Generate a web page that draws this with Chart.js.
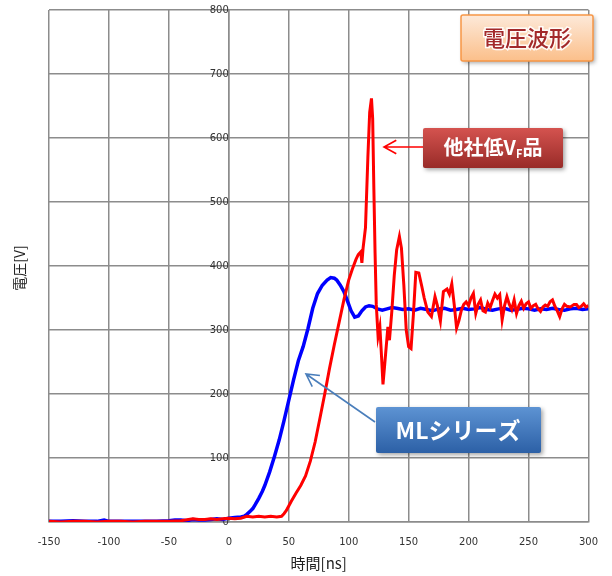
<!DOCTYPE html>
<html lang="ja">
<head>
<meta charset="UTF-8">
<title>電圧波形</title>
<script src="https://cdn.jsdelivr.net/npm/chart.js@4.4.1/dist/chart.umd.min.js"></script>
<style>
  html, body { margin: 0; padding: 0; background: #fff; }
  #wrap { width: 612px; height: 576px; }
</style>
</head>
<body>
<div id="wrap"><canvas id="wave"></canvas></div>
<script>
// ML series (blue)
var mlTime = [-150,-140,-130,-120,-110,-104,-100,-90,-80,-70,-60,-50,-45,-40,-35,-30,-25,-20,-15,-10,-5,0,5,10,13,15,18,20,22,25,28,30,34,38,42,46,50,54,58,62,66,70,74,78,82,85,88,90,93,96,99,102,105,108,111,114,117,120,124,128,132,136,140,145,150,155,160,165,170,175,180,185,190,195,200,205,210,215,220,225,230,235,240,245,250,255,260,265,270,275,280,285,290,295,300];
var mlVolt = [1,1,2,1,1,3,1,1,1,1,1,2,3,3,2,4,3,3,4,5,4,6,7,8,9,12,17,21,27,37,48,57,78,102,128,158,190,222,252,274,302,334,357,370,378,382,381,378,370,360,345,330,320,322,330,336,338,337,333,331,333,335,334,332,333,331,334,332,330,333,334,331,332,334,332,333,335,332,331,333,334,331,332,334,333,331,333,332,334,332,331,333,334,332,333];

// other company low VF product (red)
var otherTime = [-150,-140,-130,-120,-110,-100,-90,-80,-70,-60,-50,-40,-30,-25,-20,-15,-10,-5,0,5,10,15,20,25,30,35,40,44,46,48,50,52,56,60,64,68,72,76,80,84,88,92,96,100,103,106,108,110,111,112,114,116,117.5,119,120,121,122,123,124.5,126,127.5,128.6,130,132.7,134,136,138,140,142.3,144,146,148,150,152,154,156,158.5,161,163,166,169,172,174,176.5,179,182,184,186,188,190,192,194,196,198,200,202,204,206,208,210,212,214,216,218,220,222,224,226,228,230,232,234,236,238,240,242,244,246,248,250,252,254,256,258,260,262,264,266,268,270,272,274,276,278,280,282,285,288,290,292,294,296,298,300];
var otherVolt = [1,0,1,1,0,1,1,0,1,1,1,2,5,4,4,5,4,5,6,5,6,9,8,9,8,9,8,9,13,18,25,32,45,57,72,95,125,162,200,240,277,312,347,378,395,410,418,422,405,428,460,570,640,662,630,520,420,340,290,305,255,215,245,305,284,330,385,425,446,428,370,300,274,271,325,390,389,368,350,328,321,352,338,314,360,364,356,372,340,303,315,331,340,344,338,350,357,326,340,347,330,328,342,335,346,356,350,355,316,338,352,340,332,347,326,338,345,334,341,344,334,338,340,333,329,336,339,337,344,347,337,330,321,333,340,337,336,340,340,335,337,341,336,338];

var xTicks = [-150,-100,-50,0,50,100,150,200,250,300];
var yTicks = [0,100,200,300,400,500,600,700,800];

function pairs(xs, ys) {
  return xs.map(function (x, i) { return { x: x, y: ys[i] }; });
}

function roundRect(ctx, x, y, w, h, r) {
  ctx.beginPath();
  ctx.moveTo(x + r, y);
  ctx.lineTo(x + w - r, y);
  ctx.quadraticCurveTo(x + w, y, x + w, y + r);
  ctx.lineTo(x + w, y + h - r);
  ctx.quadraticCurveTo(x + w, y + h, x + w - r, y + h);
  ctx.lineTo(x + r, y + h);
  ctx.quadraticCurveTo(x, y + h, x, y + h - r);
  ctx.lineTo(x, y + r);
  ctx.quadraticCurveTo(x, y, x + r, y);
  ctx.closePath();
}

function box(ctx, x, y, w, h, top, bottom, border) {
  ctx.save();
  ctx.shadowColor = 'rgba(0,0,0,0.35)';
  ctx.shadowBlur = 4;
  ctx.shadowOffsetX = 2;
  ctx.shadowOffsetY = 2;
  var g = ctx.createLinearGradient(0, y, 0, y + h);
  g.addColorStop(0, top);
  g.addColorStop(1, bottom);
  roundRect(ctx, x, y, w, h, 2);
  ctx.fillStyle = g;
  ctx.fill();
  ctx.restore();
  if (border) {
    ctx.save();
    roundRect(ctx, x, y, w, h, 2);
    ctx.strokeStyle = border;
    ctx.lineWidth = 1.5;
    ctx.stroke();
    ctx.restore();
  }
}

function arrow(ctx, x1, y1, x2, y2, color) {
  var a = Math.atan2(y1 - y2, x1 - x2);
  var len = 14, spread = 0.5;
  ctx.save();
  ctx.strokeStyle = color;
  ctx.lineWidth = 1.6;
  ctx.beginPath();
  ctx.moveTo(x1, y1);
  ctx.lineTo(x2, y2);
  ctx.moveTo(x2 + len * Math.cos(a + spread), y2 + len * Math.sin(a + spread));
  ctx.lineTo(x2, y2);
  ctx.lineTo(x2 + len * Math.cos(a - spread), y2 + len * Math.sin(a - spread));
  ctx.stroke();
  ctx.restore();
}

var notes = {
  id: 'notes',
  afterDraw: function (chart) {
    var ctx = chart.ctx;
    var jp = '"Noto Sans CJK JP", sans-serif';

    // y axis title
    ctx.save();
    ctx.translate(20, 268);
    ctx.rotate(-Math.PI / 2);
    ctx.font = '14px ' + jp;
    ctx.fillStyle = '#222';
    ctx.textAlign = 'center';
    ctx.textBaseline = 'middle';
    ctx.fillText('電圧[V]', 0, 0);
    ctx.restore();

    // title box
    box(ctx, 461, 15, 132, 46, '#fde9d9', '#fbbf8a', '#f79646');
    ctx.save();
    ctx.font = '500 22px ' + jp;
    ctx.textAlign = 'center';
    ctx.textBaseline = 'middle';
    ctx.lineWidth = 3;
    ctx.strokeStyle = 'rgba(255,255,255,0.9)';
    ctx.strokeText('電圧波形', 527, 38);
    ctx.fillStyle = '#a3292a';
    ctx.fillText('電圧波形', 527, 38);
    ctx.restore();

    // red label
    arrow(ctx, 423, 147, 384, 147, '#ff0000');
    box(ctx, 423, 128, 140, 40, '#d4534f', '#982b28', null);
    ctx.save();
    ctx.fillStyle = '#fff';
    ctx.textBaseline = 'middle';
    var t1 = '他社低V', t2 = '品';
    ctx.font = 'bold 20px ' + jp;
    var w1 = ctx.measureText(t1).width;
    ctx.font = 'bold 11px ' + jp;
    var ws = ctx.measureText('F').width;
    ctx.font = 'bold 20px ' + jp;
    var w2 = ctx.measureText(t2).width;
    var sx = 493 - (w1 + ws + w2) / 2;
    ctx.fillText(t1, sx, 147);
    ctx.font = 'bold 11px ' + jp;
    ctx.fillText('F', sx + w1, 154);
    ctx.font = 'bold 20px ' + jp;
    ctx.fillText(t2, sx + w1 + ws, 147);
    ctx.restore();

    // blue label
    arrow(ctx, 375, 422, 306, 374, '#4a7ebb');
    box(ctx, 376, 407, 165, 46, '#5d93d3', '#2c60a6', null);
    ctx.save();
    ctx.fillStyle = '#fff';
    ctx.font = 'bold 23px ' + jp;
    ctx.textAlign = 'center';
    ctx.textBaseline = 'middle';
    ctx.fillText('MLシリーズ', 458, 430);
    ctx.restore();
  }
};

new Chart(document.getElementById('wave'), {
  type: 'line',
  data: {
    datasets: [
      {
        label: '他社低VF品',
        data: pairs(otherTime, otherVolt),
        borderColor: '#ff0000',
        borderWidth: 3,
        pointRadius: 0,
        tension: 0
      },
      {
        label: 'MLシリーズ',
        data: pairs(mlTime, mlVolt),
        borderColor: '#0000ff',
        borderWidth: 3.5,
        pointRadius: 0,
        tension: 0
      }
    ]
  },
  options: {
    responsive: true,
    maintainAspectRatio: false,
    animation: false,
    layout: { padding: { left: 49, right: 15, top: 10, bottom: 0 } },
    plugins: { legend: { display: false }, tooltip: { enabled: false } },
    scales: {
      x: {
        type: 'linear',
        min: -150,
        max: 300,
        afterBuildTicks: function (s) { s.ticks = xTicks.map(function (v) { return { value: v }; }); },
        afterFit: function (s) { s.height = 54; },
        grid: { color: '#8c8c8c', lineWidth: 1.5, drawTicks: false },
        border: { color: '#8c8c8c', width: 1.5 },
        ticks: { padding: 14, color: '#333', font: { family: 'DejaVu Sans', size: 10 } },
        title: {
          display: true,
          text: '時間[ns]',
          color: '#222',
          font: { family: '"Noto Sans CJK JP"', size: 15 },
          padding: { top: 6, bottom: 4 }
        }
      },
      y: {
        type: 'linear',
        position: { x: 0 },
        min: 0,
        max: 800,
        afterBuildTicks: function (s) { s.ticks = yTicks.map(function (v) { return { value: v }; }); },
        grid: { color: '#8c8c8c', lineWidth: 1.5, tickLength: 5 },
        border: { color: '#8c8c8c', width: 1.5 },
        ticks: { padding: 2, color: '#333', font: { family: 'DejaVu Sans', size: 10 } }
      }
    }
  },
  plugins: [notes]
});
</script>
</body>
</html>
